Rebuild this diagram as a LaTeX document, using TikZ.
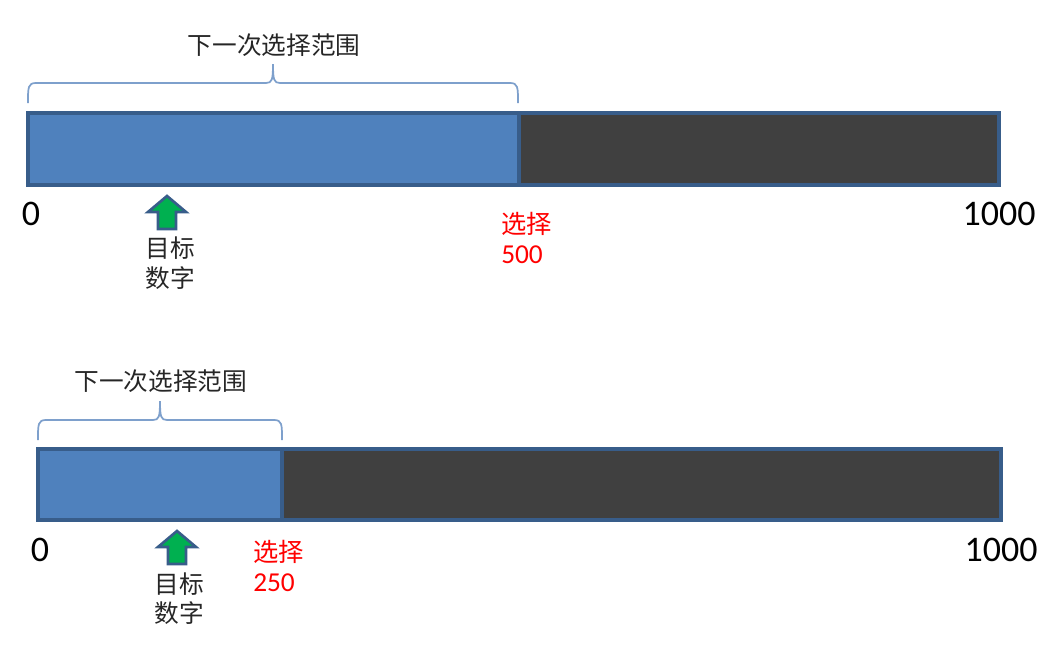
\documentclass[tikz,border=0pt]{standalone}
\usepackage{fontspec}
\setmainfont{Carlito}
\newfontfamily\cjk{Noto Sans CJK SC}
\definecolor{barblue}{HTML}{4F81BD}
\definecolor{bardark}{HTML}{404040}
\definecolor{edgeblue}{HTML}{385D8A}
\definecolor{bracecol}{HTML}{7EA0CC}
\definecolor{arrgreen}{HTML}{00B050}
\begin{document}
\begin{tikzpicture}[x=0.75pt,y=-0.75pt,
  lbl/.style={inner sep=0pt, font=\fontsize{18.5}{20}\selectfont\cjk, text=black!85},
  num/.style={inner sep=0pt, font=\fontsize{27}{30}\selectfont},
  redlbl/.style={inner sep=0pt, anchor=west, text=red, font=\fontsize{19}{20}\selectfont\cjk},
  bracepath/.style={draw=bracecol, line width=1.3pt},
  barframe/.style={draw=edgeblue, line width=2.5pt},
  uparrow/.style={fill=arrgreen, draw=edgeblue, line width=2pt, line join=miter}]
\useasboundingbox (0,0) rectangle (1054,662);
% ---------- top bar ----------
\fill[barblue] (28,113) rectangle (519,185);
\fill[bardark] (519,113) rectangle (999,185);
\draw[barframe] (28,113) rectangle (999,185);
\draw[edgeblue, line width=2.5pt] (519,113) -- (519,185);
% brace top
\draw[bracepath] (28,103) .. controls (28,87) and (28,83) .. (36,83) -- (266,83)
  .. controls (272,83) and (273,80) .. (273,64) .. controls (273,80) and (274,83) .. (280,83)
  -- (510,83) .. controls (518,83) and (518,87) .. (518,103);
\node[lbl] (t1) at (274,45) {下一次选择范围};
\node[num] (z1) at (31,214) {0};
\node[num] (k1) at (999,214) {1000};
\path[uparrow] (167,196) -- (186,212) -- (176,212) -- (176,229) -- (158,229) -- (158,212) -- (148,212) -- cycle;
\node[lbl] (g1a) at (170,248) {目标};
\node[lbl] (g1b) at (170,278) {数字};
\node[redlbl] (s1a) at (501,224) {选择};
\node[redlbl, font=\fontsize{20.5}{22}\selectfont] (s1b) at (501,255) {500};
% ---------- bottom bar ----------
\fill[barblue] (38,449) rectangle (282,520);
\fill[bardark] (282,449) rectangle (1001,520);
\draw[barframe] (38,449) rectangle (1001,520);
\draw[edgeblue, line width=2.5pt] (282,449) -- (282,520);
\draw[bracepath] (38,440) .. controls (38,424) and (38,420) .. (46,420) -- (153,420)
  .. controls (159,420) and (160,417) .. (160,401) .. controls (160,417) and (161,420) .. (167,420)
  -- (274,420) .. controls (282,420) and (282,424) .. (282,440);
\node[lbl] (t2) at (161,381) {下一次选择范围};
\node[num] (z2) at (40,550) {0};
\node[num] (k2) at (1001,550) {1000};
\path[uparrow] (177,531) -- (196,547) -- (186,547) -- (186,564) -- (168,564) -- (168,547) -- (158,547) -- cycle;
\node[lbl] (g2a) at (179,584) {目标};
\node[lbl] (g2b) at (179,613) {数字};
\node[redlbl] (s2a) at (253,552) {选择};
\node[redlbl, font=\fontsize{20.5}{22}\selectfont] (s2b) at (253,583) {250};
\end{tikzpicture}
\end{document}
